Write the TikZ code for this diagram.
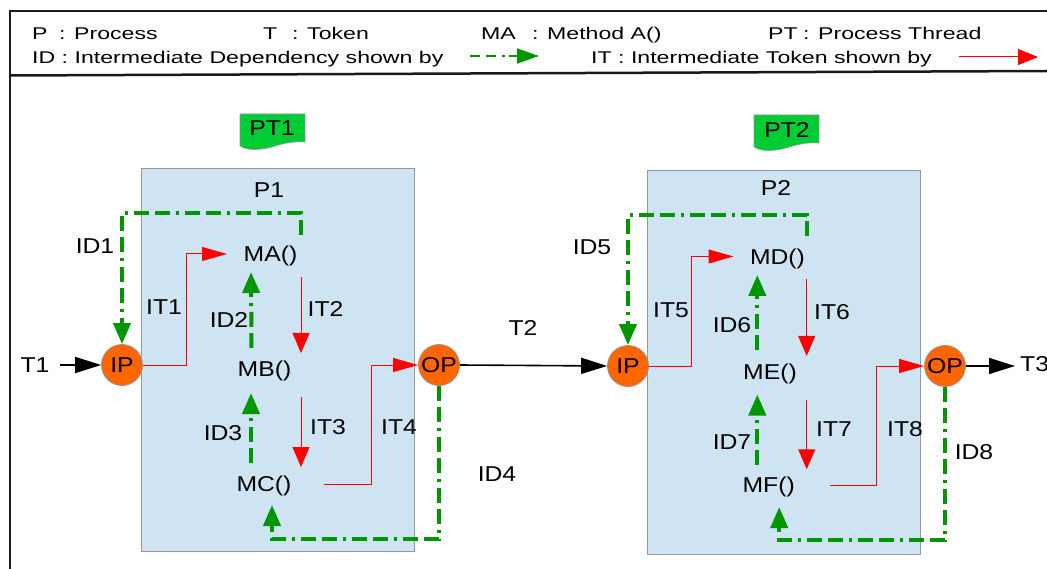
\documentclass[tikz,border=0pt]{standalone}
\usepackage{fontspec}
\setmainfont{Liberation Sans}[FakeStretch=1.15]
\newfontfamily\legfont{Liberation Sans}[FakeStretch=1.36]
\usetikzlibrary{arrows.meta,calc}

\definecolor{procblue}{RGB}{207,228,242}
\definecolor{procedge}{RGB}{150,150,150}
\definecolor{portorange}{RGB}{255,102,0}
\definecolor{idgreen}{RGB}{0,150,0}
\definecolor{bannergreen}{RGB}{0,204,51}
\definecolor{framegray}{RGB}{25,25,25}

\begin{document}
\begin{tikzpicture}[x=1pt,y=-1pt,
  lbl/.style={font=\fontsize{21.5}{24}\selectfont, inner sep=0pt, text height=15.4pt, text depth=0pt},
  leg/.style={font=\legfont\fontsize{17}{20}\selectfont, inner sep=0pt, anchor=base west},
  port/.style={lbl, circle, fill=portorange, draw=procedge, line width=0.8pt, minimum size=41pt},
  procbox/.style={rectangle, fill=procblue, draw=procedge, line width=1pt, inner sep=0pt},
  tokarrow/.style={draw=black, line width=1.6pt, -{Triangle[length=26pt,width=16pt]}},
  itok/.style={draw=red, line width=1pt},
  itokh/.style={itok, -{Triangle[length=25pt,width=14pt]}},
  itokv/.style={itok, -{Triangle[length=20pt,width=17pt]}},
  idep/.style={draw=idgreen, line width=4pt,
    dash pattern=on 15pt off 6pt on 15pt off 6pt on 3pt off 6pt,
    -{Triangle[length=21pt,width=17pt]}},
  banner/.pic={
    \filldraw[fill=bannergreen, draw=procedge, line width=0.6pt]
      (0,0) -- (65,0) -- (65,28)
      .. controls (55,27) and (44,29) .. (32,33)
      .. controls (20,36) and (8,37) .. (0,32) -- cycle;
  }]
\useasboundingbox (0,0) rectangle (1047,569);

% ---------- outer frame and legend ----------
\draw[framegray, line width=2.5pt] (1047,11) -- (10,11) -- (10,569);
\draw[framegray, line width=2.5pt] (10,75.5) -- (1047,71);

\node[leg] (lP)   at (32,40)  {P};
\node[leg] (lPd)  at (59,40)  {: Process};
\node[leg] (lT)   at (263,40) {T};
\node[leg] (lTd)  at (292,40) {: Token};
\node[leg] (lMA)  at (481,40) {MA};
\node[leg] (lMAd) at (532,40) {: Method A()};
\node[leg] (lPT)  at (768,40) {PT};
\node[leg] (lPTd) at (803,40) {: Process Thread};
\node[leg] (lID)  at (32,64)  {ID : Intermediate Dependency shown by};
\node[leg] (lIT)  at (591,64) {IT : Intermediate Token shown by};

\coordinate (gA) at (470,56);
\coordinate (gB) at (539,56);
\draw[draw=idgreen, line width=2.2pt, dash pattern=on 10pt off 6pt on 10pt off 6pt on 3pt off 4pt,
      -{Triangle[length=22pt,width=15pt]}] (gA) -- (gB);
\coordinate (rA) at (959,57);
\coordinate (rB) at (1038,57);
\draw[itok, -{Triangle[length=20pt,width=16pt]}] (rA) -- (rB);

% ---------- process boxes and thread banners ----------
\node[procbox, minimum width=273pt, minimum height=382pt] (P1box) at (277.5,360) {};
\node[procbox, minimum width=273pt, minimum height=383pt] (P2box) at (783.5,362.5) {};

\pic at (240,114) {banner};
\pic at (754,115) {banner};
\node[lbl] (PT1) at (272,128) {PT1};
\node[lbl] (PT2) at (787,130) {PT2};

\node[lbl] (P1) at (269,190) {P1};
\node[lbl] (P2) at (776,188) {P2};

% ---------- methods ----------
\node[lbl] (MA) at (270.5,254) {MA()};
\node[lbl] (MB) at (264.5,369) {MB()};
\node[lbl] (MC) at (264,484)   {MC()};
\node[lbl] (MD) at (777.5,256.5) {MD()};
\node[lbl] (ME) at (770,371.5) {ME()};
\node[lbl] (MF) at (768.7,485) {MF()};

% ---------- ports ----------
\node[port] (IP1) at (122,365) {IP};
\node[port] (OP1) at (439,365) {OP};
\node[port] (IP2) at (628,366) {IP};
\node[port] (OP2) at (945,366) {OP};

% ---------- tokens between processes ----------
\coordinate (T1start) at (60,365);
\coordinate (T3end) at (1015,366);
\draw[tokarrow] (T1start) -- (IP1.west);
\draw[tokarrow] (OP1.east) -- (IP2.west);
\draw[tokarrow] (OP2.east) -- (T3end);
\node[lbl] (T1) at (35,365) {T1};
\node[lbl] (T2) at (523,328) {T2};
\node[lbl, anchor=west] (T3) at (1020,364) {T3};

% ---------- process 1: intermediate tokens ----------
\draw[itokh] (IP1.east) -| ($(MA)+(-84.5,0)$) -- ($(MA)+(-43.5,0)$);
\draw[itokv] ($(MA)+(30.5,23.5)$) -- ($(MB)+(36.5,-16)$);
\draw[itokv] ($(MB)+(36.5,28)$) -- ($(MC)+(37,-17)$);
\draw[itokh] ($(MC)+(60,0)$) -| ($(OP1)+(-68,0)$) -- (OP1.west);

% ---------- process 1: intermediate dependencies ----------
\draw[idep] ($(MA)+(30,-19)$) |- ($(IP1)+(0,-152)$) -- (IP1.north);
\draw[idep] ($(MB)+(-13,-21)$) -- ($(MA)+(-19.5,18)$);
\draw[idep] ($(MC)+(-13,-21)$) -- ($(MB)+(-13.5,24)$);
\draw[idep] (OP1.south) |- ($(MC)+(8,55)$) -- ($(MC)+(8,21)$);

\node[lbl] (ID1) at (95,246)  {ID1};
\node[lbl] (IT1) at (164,307) {IT1};
\node[lbl] (ID2) at (229,320) {ID2};
\node[lbl] (IT2) at (325.5,309) {IT2};
\node[lbl] (ID3) at (223,433) {ID3};
\node[lbl] (IT3) at (328,427) {IT3};
\node[lbl] (IT4) at (399,427) {IT4};
\node[lbl] (ID4) at (497,474) {ID4};

% ---------- process 2: intermediate tokens ----------
\draw[itokh] (IP2.east) -| ($(MD)+(-86,0)$) -- ($(MD)+(-44,0)$);
\draw[itokv] ($(MD)+(29.2,22.5)$) -- ($(ME)+(36.7,-15.5)$);
\draw[itokv] ($(ME)+(36.7,28)$) -- ($(MF)+(38,-15.7)$);
\draw[itokh] ($(MF)+(61.3,0.7)$) -| ($(OP2)+(-68.3,0)$) -- (OP2.west);

% ---------- process 2: intermediate dependencies ----------
\draw[idep] ($(MD)+(29,-20)$) |- ($(IP2)+(0,-151)$) -- (IP2.north);
\draw[idep] ($(ME)+(-12.7,-21)$) -- ($(MD)+(-20.2,18.5)$);
\draw[idep] ($(MF)+(-11.4,-20)$) -- ($(ME)+(-12.7,23)$);
\draw[idep] (OP2.south) |- ($(MF)+(10.5,55)$) -- ($(MF)+(10.5,22)$);

\node[lbl] (ID5) at (592,247) {ID5};
\node[lbl] (IT5) at (671,310) {IT5};
\node[lbl] (ID6) at (732,325) {ID6};
\node[lbl] (IT6) at (832,312) {IT6};
\node[lbl] (ID7) at (732,442) {ID7};
\node[lbl] (IT7) at (834,429) {IT7};
\node[lbl] (IT8) at (905,429) {IT8};
\node[lbl] (ID8) at (974,452) {ID8};
\end{tikzpicture}
\end{document}
